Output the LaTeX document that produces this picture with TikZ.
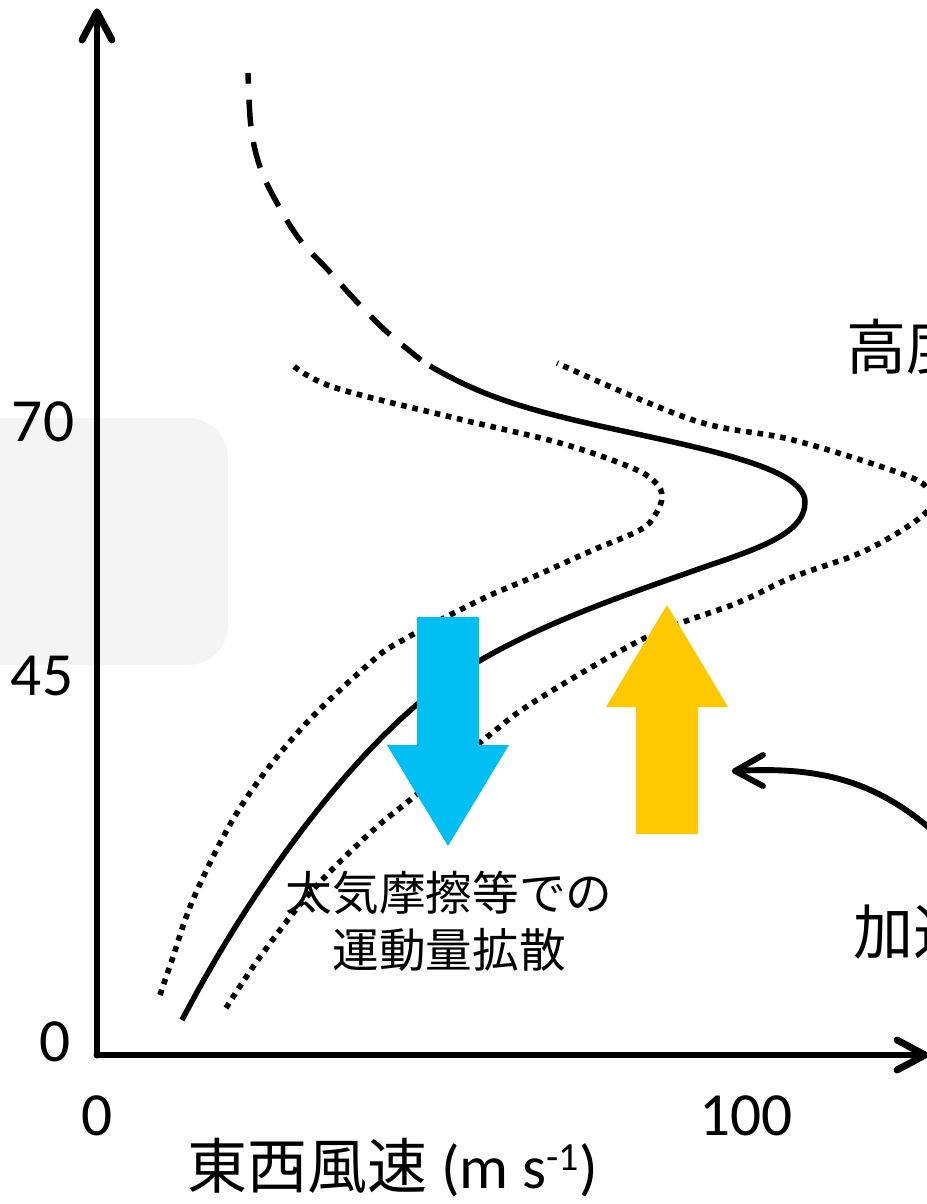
\documentclass[tikz,border=0pt]{standalone}
\usepackage{fontspec}
\setmainfont{Carlito}
\newfontfamily\jp{Noto Sans CJK JP}
\definecolor{cyanA}{RGB}{0,191,243}
\definecolor{yellowA}{RGB}{255,201,0}
\definecolor{bgGray}{RGB}{244,244,244}
\tikzset{
  axisline/.style={line width=5.2pt,line cap=round,line join=round},
  profile/.style={line width=4.1pt},
  dashprof/.style={line width=4.1pt,dash pattern=on 20pt off 12pt,dash phase=12pt},
  dotprof/.style={line width=4.2pt,dash pattern=on 4.2pt off 4.4pt},
  numlab/.style={inner sep=0pt,font=\fontsize{46}{50}\selectfont},
  jplab/.style={inner sep=0pt,font=\jp\fontsize{45}{50}\selectfont},
  pointer/.style={line width=4.4pt,line cap=round,line join=round}
}
\begin{document}
\begin{tikzpicture}[x=0.75pt,y=-0.75pt]
\useasboundingbox (0,0) rectangle (927,1204);
\clip (0,0) rectangle (927,1204);
% grey panel
\fill[bgGray,rounded corners=30pt] (-60,418) rectangle (228,665);
% axes
\coordinate (O) at (97,1055);
\coordinate (ytop) at (97,12);
\coordinate (xtop) at (925,1055);
\draw[axisline] (O) -- (ytop);
\draw[axisline] (82,40) -- (ytop) -- (112,40);
\draw[axisline] (O) -- (xtop);
\draw[axisline] (897,1040) -- (xtop) -- (897,1070);
% tick labels
\node[numlab] (y0) at (55,1042) {0};
\node[numlab] (y45) at (42,676) {45};
\node[numlab] (y70) at (43,422) {70};
\node[numlab] (x0) at (97,1116) {0};
\node[numlab] (x100) at (746,1116) {100};
% axis titles
\node[inner sep=0pt,anchor=west] (xt) at (187,1168) {{\jp\fontsize{45}{50}\selectfont 東西風速}\fontsize{46}{50}\selectfont{} (m s\raisebox{14pt}{\fontsize{30}{30}\selectfont -1})};
\node[jplab,anchor=west] (yt) at (846,347) {高度};
\node[jplab,anchor=west] (acc) at (853,932) {加速};
% solid profile
\draw[profile] (430,366) .. controls (480,395) and (520,408) .. (600,426)
  .. controls (700,448) and (805,467) .. (805,502)
  .. controls (805,530) and (770,545) .. (710,565)
  .. controls (620,597) and (500,635) .. (420,702)
  .. controls (340,769) and (250,890) .. (182,1020);
\draw[dashprof] plot[smooth,tension=0.6] coordinates {(248,73) (251,127) (260,167) (277,203) (300,240) (328,270) (357,302) (387,332) (421,360)};
% dotted envelopes
\draw[dotprof] plot[smooth,tension=0.6] coordinates {(160,995) (172,960) (195,895) (240,808) (300,730) (370,663) (403,640) (480,600) (533,577) (593,550) (640,530) (655,515) (662,497) (655,482) (630,467) (560,443) (455,418) (333,387) (290,363)};
\draw[dotprof] plot[smooth,tension=0.6] coordinates {(226,1008) (260,957) (310,893) (370,833) (410,800) (487,737) (537,700) (647,637) (737,603) (793,577) (860,553) (910,525) (932,505) (930,492) (905,475) (793,440) (693,420) (557,363)};
% blue arrow (down)
\fill[cyanA] (417,617) -- (479,617) -- (479,745) -- (509,745) -- (448,846) -- (387,745) -- (417,745) -- cycle;
% yellow arrow (up)
\fill[yellowA] (636,834) -- (698,834) -- (698,707) -- (728,707) -- (667,605) -- (606,707) -- (636,707) -- cycle;
% label
\node[inner sep=0pt,align=center,font=\jp\fontsize{35}{43}\selectfont] (diff) at (449,921) {太気摩擦等での\\運動量拡散};
% curved pointer
\coordinate (ptip) at (735,771);
\coordinate (pstart) at (945,842);
\draw[pointer] (pstart) .. controls (880,780) and (820,766) .. (ptip);
\draw[pointer] (763,755) -- (ptip) -- (763,786);
\end{tikzpicture}
\end{document}
